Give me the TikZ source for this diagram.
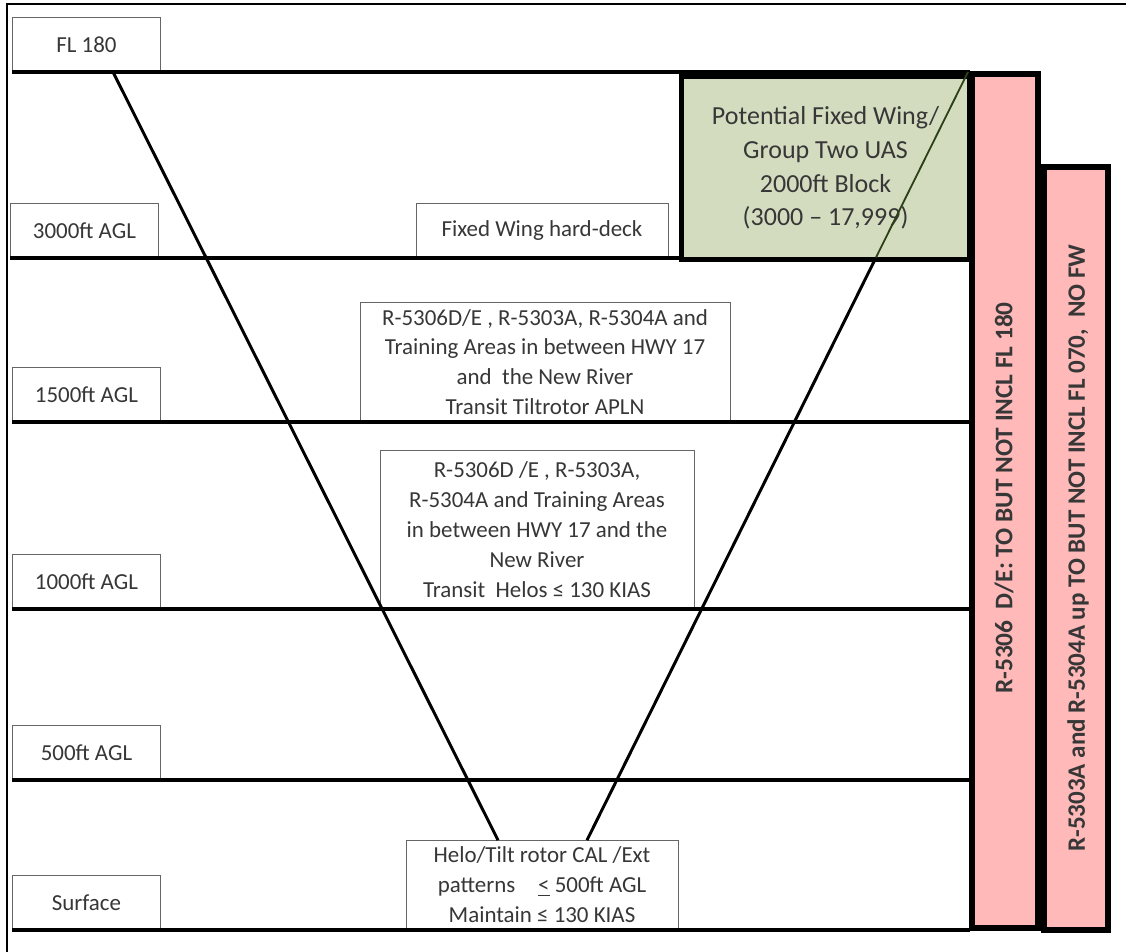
\documentclass[tikz,border=0pt]{standalone}
\usepackage{fontspec}
\setmainfont{Carlito}
\usetikzlibrary{positioning}
\definecolor{barpink}{RGB}{255,185,185}
\definecolor{blockgreen}{RGB}{212,220,192}
\definecolor{txtgrey}{RGB}{55,55,55}
\definecolor{segolive}{RGB}{45,65,25}
\begin{document}
\begin{tikzpicture}[x=0.025cm,y=-0.025cm,
    lvlbox/.style={draw=black!60,line width=0.6pt,fill=white,minimum width=3.7cm,minimum height=1.35cm,inner sep=0pt,anchor=south west,text=txtgrey},
    areabox/.style={draw=black!60,line width=0.6pt,fill=white,align=center,inner sep=0pt,anchor=south,text=txtgrey},
    lvlline/.style={line width=2.8pt},
    vline/.style={line width=2.1pt},
    heavy/.style={line width=3.6pt},
    bartext/.style={rotate=90,text=txtgrey}]
    \useasboundingbox (0,0) rectangle (1126,952);
    {\fontsize{16.3}{21.3}\selectfont

    % Outer frame
    \draw [line width=1.4pt] (7,952) -- (7,4) -- (1126,4);%

    % Right edge of the levels
    \coordinate (edge) at (970,0);%

    % Marking levels by boxes
    \node [lvlbox] (fl) at (12,72) {FL 180};%
    \node [lvlbox] (a3000) at (10,258) {3000ft AGL};%
    \node [lvlbox] (a1500) at (12,422) {1500ft AGL};%
    \node [lvlbox] (a1000) at (12,609) {1000ft AGL};%
    \node [lvlbox] (a500) at (12,780) {500ft AGL};%
    \node [lvlbox] (surf) at (12,930) {Surface};%

    % Marking areas by boxes
    \node [areabox,minimum width=6.3cm,minimum height=1.35cm] (deck) at (542,258) {Fixed Wing hard-deck};%
    \node [areabox,minimum width=9.25cm,minimum height=2.975cm] (tilt) at (545,422)
        {R-5306D/E , R-5303A, R-5304A and\\Training Areas in between HWY 17\\and\ \ the New River\\Transit Tiltrotor APLN};%
    \node [areabox,minimum width=7.85cm,minimum height=3.95cm] (helos) at (537,609)
        {R-5306D /E , R-5303A,\\R-5304A and Training Areas\\in between HWY 17 and the\\New River\\Transit\ \ Helos ≤ 130 KIAS};%
    \node [areabox,minimum width=6.8cm,minimum height=2.225cm] (cal) at (542,930)
        {Helo/Tilt rotor CAL /Ext\\patterns\quad\underline{<} 500ft AGL\\Maintain ≤ 130 KIAS};%

    % Drawing level lines
    \draw [lvlline] (fl.south west) -- (fl.south west -| edge);%
    \draw [lvlline] (a3000.south west) -- (a3000.south west -| edge);%
    \draw [lvlline] (a1500.south west) -- (a1500.south west -| edge);%
    \draw [lvlline] (a1000.south west) -- (a1000.south west -| edge);%
    \draw [lvlline] (a500.south west) -- (a500.south west -| edge);%
    \draw [lvlline] (surf.south west) -- (surf.south west -| edge);%

    % Drawing the funnel
    \coordinate (topl) at (113,72);%
    \coordinate (topr) at (968,72);%
    \coordinate (botl) at (cal.north west -| 498,0);%
    \coordinate (botr) at (cal.north west -| 587,0);%
    \draw [vline] (topl) -- (botl);%
    \draw [vline] (topr) -- (botr);%

    % Drawing the UAS block
    \node [draw,heavy,fill=blockgreen,minimum width=7.2cm,minimum height=4.575cm,anchor=north west,
        align=center,text=txtgrey,font=\fontsize{18.5}{24}\selectfont] (uas) at (679,74)
        {Potential Fixed Wing/\\Group Two UAS\\2000ft Block\\(3000 -- 17,999)};%
    \path (topr) -- (botr) coordinate [pos=0.2416] (cut);%
    \draw [segolive,line width=1.3pt] (topr) -- (cut);%

    % Drawing restricted area bars
    \draw [heavy,fill=barpink] (972,74) rectangle (1038,928);%
    \draw [heavy,fill=barpink] (1044,167) rectangle (1108,930);%
    \node [bartext,font=\fontsize{18}{21}\bfseries] (r5306) at (1004,498) {R-5306\ \ D/E: TO BUT NOT INCL FL 180};%
    \node [bartext,font=\fontsize{17.8}{21}\bfseries] (r5303) at (1078,548) {R-5303A and R-5304A up TO BUT NOT INCL FL 070,\ \ NO FW};%
    }
\end{tikzpicture}
\end{document}
